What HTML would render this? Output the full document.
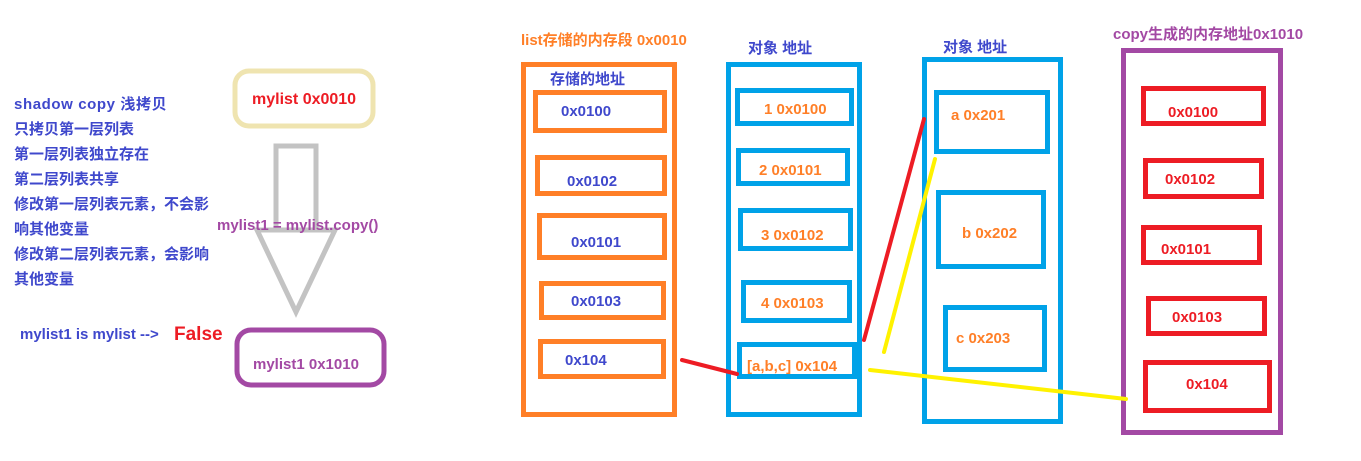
<!DOCTYPE html>
<html><head><meta charset="utf-8"><style>
html,body{margin:0;padding:0;background:#fff;width:1361px;height:461px;overflow:hidden}
svg text{font-family:"Liberation Sans","Noto Sans CJK SC",sans-serif;font-weight:bold;font-size:15px}
</style></head><body>
<svg width="1361" height="461" xmlns="http://www.w3.org/2000/svg">
<g fill="#3f48cc">
<text x="14" y="109" style="letter-spacing:0.6px">shadow copy  浅拷贝</text>
<text x="14" y="134">只拷贝第一层列表</text>
<text x="14" y="159">第一层列表独立存在</text>
<text x="14" y="184">第二层列表共享</text>
<text x="14" y="209">修改第一层列表元素，不会影</text>
<text x="14" y="234">响其他变量</text>
<text x="14" y="259">修改第二层列表元素，会影响</text>
<text x="14" y="284">其他变量</text>
<text x="20" y="339">mylist1 is mylist  --&gt;</text>
<text x="174" y="340" fill="#ed1c24" style="font-size:19px">False</text>
</g>
<rect x="235" y="71" width="138" height="55" rx="14" fill="none" stroke="#efe4b0" stroke-width="5"/>
<text x="252" y="104" fill="#ed1c24" style="font-size:16px">mylist  0x0010</text>
<g fill="none" stroke="#c3c3c3" stroke-width="5">
<polyline points="276,229 276,146 316,146 316,229"/>
<polygon points="257,230 335,230 296,312"/>
</g>
<text x="217" y="230" fill="#a349a4">mylist1 = mylist.copy()</text>
<rect x="237" y="330" width="147" height="55" rx="14" fill="none" stroke="#a349a4" stroke-width="5"/>
<text x="253" y="369" fill="#a349a4">mylist1 0x1010</text>

<text x="521" y="45" fill="#ff7f27">list存储的内存段 0x0010</text>
<rect x="523.5" y="64.5" width="151" height="350" fill="none" stroke="#ff7f27" stroke-width="5"/>
<text x="550" y="84" fill="#3f48cc">存储的地址</text>
<g fill="none" stroke="#ff7f27" stroke-width="5">
<rect x="535.5" y="92.5" width="129" height="38"/>
<rect x="537.5" y="157.5" width="127" height="36"/>
<rect x="539.5" y="215.5" width="125" height="42"/>
<rect x="541.5" y="283.5" width="122" height="34"/>
<rect x="540.5" y="341.5" width="123" height="35"/>
</g>
<g fill="#3f48cc">
<text x="561" y="116">0x0100</text>
<text x="567" y="186">0x0102</text>
<text x="571" y="247">0x0101</text>
<text x="571" y="306">0x0103</text>
<text x="565" y="365">0x104</text>
</g>

<text x="748" y="53" fill="#3f48cc">对象 地址</text>
<rect x="728.5" y="64.5" width="131" height="350" fill="none" stroke="#00a2e8" stroke-width="5"/>
<g fill="none" stroke="#00a2e8" stroke-width="5">
<rect x="737.5" y="90.5" width="114" height="33"/>
<rect x="738.5" y="150.5" width="109" height="33"/>
<rect x="740.5" y="210.5" width="110" height="38"/>
<rect x="743.5" y="282.5" width="106" height="38"/>
<rect x="739.5" y="344.5" width="115" height="32"/>
</g>
<g fill="#ff7f27">
<text x="764" y="114">1 0x0100</text>
<text x="759" y="175">2 0x0101</text>
<text x="761" y="240">3 0x0102</text>
<text x="761" y="308">4 0x0103</text>
<text x="747" y="371">[a,b,c] 0x104</text>
</g>

<text x="943" y="52" fill="#3f48cc">对象 地址</text>
<rect x="924.5" y="59.5" width="136" height="362" fill="none" stroke="#00a2e8" stroke-width="5"/>
<g fill="none" stroke="#00a2e8" stroke-width="5">
<rect x="936.5" y="92.5" width="111" height="59"/>
<rect x="938.5" y="192.5" width="105" height="74"/>
<rect x="945.5" y="307.5" width="99" height="62"/>
</g>
<g fill="#ff7f27">
<text x="951" y="120">a 0x201</text>
<text x="962" y="238">b 0x202</text>
<text x="956" y="343">c 0x203</text>
</g>

<text x="1113" y="39" fill="#a349a4">copy生成的内存地址0x1010</text>
<rect x="1123.5" y="50.5" width="157" height="382" fill="none" stroke="#a349a4" stroke-width="5"/>
<g fill="none" stroke="#ed1c24" stroke-width="5">
<rect x="1143.5" y="88.5" width="120" height="35"/>
<rect x="1145.5" y="160.5" width="116" height="36"/>
<rect x="1143.5" y="227.5" width="116" height="35"/>
<rect x="1148.5" y="298.5" width="116" height="35"/>
<rect x="1145.5" y="362.5" width="124" height="48"/>
</g>
<g fill="#ed1c24">
<text x="1168" y="117">0x0100</text>
<text x="1165" y="184">0x0102</text>
<text x="1161" y="254">0x0101</text>
<text x="1172" y="322">0x0103</text>
<text x="1186" y="389">0x104</text>
</g>

<g stroke-width="4" stroke-linecap="round">
<line x1="682" y1="360" x2="737" y2="374" stroke="#ed1c24"/>
<line x1="864" y1="340" x2="924" y2="119" stroke="#ed1c24"/>
<line x1="884" y1="352" x2="935" y2="159" stroke="#fff200"/>
<line x1="870" y1="370" x2="1126" y2="399" stroke="#fff200"/>
</g>
</svg>
</body></html>
